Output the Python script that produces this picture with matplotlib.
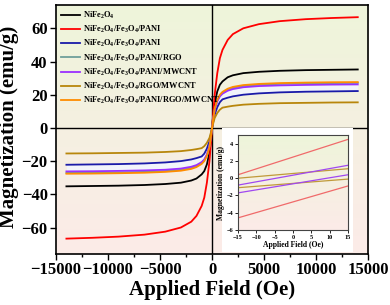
import numpy as np
import matplotlib
matplotlib.use("Agg")
import matplotlib.pyplot as plt
from matplotlib.ticker import MultipleLocator

plt.rcParams['font.family'] = 'Liberation Serif'
plt.rcParams['font.weight'] = 'bold'
plt.rcParams['mathtext.fontset'] = 'custom'
plt.rcParams['mathtext.rm'] = 'Liberation Serif:bold'
plt.rcParams['mathtext.it'] = 'Liberation Serif:bold'
plt.rcParams['mathtext.bf'] = 'Liberation Serif:bold'
plt.rcParams['mathtext.default'] = 'rm'

# Applied field grid (Oe)
field = [-14000, -11500, -9000, -6500, -4500, -3000, -2000, -1500, -1000, -750, -500, -250, -100,
         0, 100, 250, 500, 750, 1000, 1500, 2000, 3000, 4500, 6500, 9000, 11500, 14000]

# Magnetization (emu/g) per sample
m_nife = [-35.2, -35.0, -34.8, -34.4, -33.8, -33.0, -31.7, -30.5, -28.0, -26.0, -22.0, -15.0, -7.0,
          0, 7.0, 15.0, 22.0, 26.0, 28.0, 30.5, 31.7, 33.0, 33.8, 34.4, 34.8, 35.0, 35.2]
m_pani = [-66.7, -66.2, -65.5, -64.3, -62.5, -60.0, -56.5, -53.0, -47.0, -42.0, -33.0, -20.0, -8.0,
          0, 8.0, 20.0, 33.0, 42.0, 47.0, 53.0, 56.5, 60.0, 62.5, 64.3, 65.5, 66.2, 66.7]
m_pani2 = [-22.2, -22.0, -21.8, -21.4, -20.8, -20.0, -19.0, -18.2, -17.2, -15.5, -12.5, -8.0, -3.5,
           0, 3.5, 8.0, 12.5, 15.5, 17.2, 18.2, 19.0, 20.0, 20.8, 21.4, 21.8, 22.0, 22.2]
m_rgo = [-27.1, -27.0, -26.8, -26.5, -26.0, -25.3, -24.2, -23.1, -21.2, -19.5, -16.5, -11.0, -5.0,
         0, 5.0, 11.0, 16.5, 19.5, 21.2, 23.1, 24.2, 25.3, 26.0, 26.5, 26.8, 27.0, 27.1]
m_mwcnt = [-26.2, -26.1, -25.9, -25.6, -25.2, -24.5, -23.4, -22.4, -20.6, -19.0, -16.0, -10.8, -4.8,
           0, 4.8, 10.8, 16.0, 19.0, 20.6, 22.4, 23.4, 24.5, 25.2, 25.6, 25.9, 26.1, 26.2]
m_rgo_mwcnt = [-15.4, -15.3, -15.1, -14.9, -14.5, -14.0, -13.3, -12.8, -12.2, -11.0, -9.0, -6.0, -2.5,
               0, 2.5, 6.0, 9.0, 11.0, 12.2, 12.8, 13.3, 14.0, 14.5, 14.9, 15.1, 15.3, 15.4]
m_all = [-27.6, -27.5, -27.3, -27.0, -26.5, -25.8, -24.7, -23.6, -21.7, -20.0, -17.0, -11.5, -5.0,
         0, 5.0, 11.5, 17.0, 20.0, 21.7, 23.6, 24.7, 25.8, 26.5, 27.0, 27.3, 27.5, 27.6]

labels = [r'NiFe$_2$O$_4$',
          r'NiFe$_2$O$_4$/Fe$_3$O$_4$/PANI',
          r'NiFe$_2$O$_4$/Fe$_3$O$_4$/PANI',
          r'NiFe$_2$O$_4$/Fe$_3$O$_4$/PANI/RGO',
          r'NiFe$_2$O$_4$/Fe$_3$O$_4$/PANI/MWCNT',
          r'NiFe$_2$O$_4$/Fe$_3$O$_4$/RGO/MWCNT',
          r'NiFe$_2$O$_4$/Fe$_3$O$_4$/PANI/RGO/MWCNT']
colors = ['black', 'red', '#1a1aa8', '#6f9f9a', '#9b30ff', '#b8860b', '#ff8c00']
series = [m_nife, m_pani, m_pani2, m_rgo, m_mwcnt, m_rgo_mwcnt, m_all]

# Inset: low-field branches (Oe, emu/g)
inset_field = [-15, 15]
inset_red_up = [0.4, 4.5]
inset_red_dn = [-4.6, -0.9]
inset_pur_up = [-0.8, 1.5]
inset_pur_dn = [-1.7, 0.4]
inset_brn_up = [0.0, 1.1]
inset_brn_dn = [-1.1, -0.1]

fig = plt.figure(figsize=(3.9, 3.05), dpi=100)
ax = fig.add_axes([0.1436, 0.167, 0.8004, 0.8164])

# green-to-pink background
grad = np.linspace(0, 1, 256).reshape(-1, 1)
top = np.array([238, 245, 218]) / 255
bot = np.array([252, 235, 232]) / 255
img = top + (bot - top) * grad[:, :, None]
ax.imshow(img, extent=[-15000, 15000, -76, 74], aspect='auto', zorder=0)

ax.axhline(0, color='black', lw=1.0, zorder=1)
ax.axvline(0, color='black', lw=1.0, zorder=1)

ax.fill_between(field, m_pani2, m_mwcnt, color='#f2f4fb', lw=0, zorder=1.5)
for m, c, lab in zip(series, colors, labels):
    ax.plot(field, m, color=c, lw=1.3, label=lab, zorder=2)

ax.set_xlim(-15000, 15000)
ax.set_ylim(-76, 74)
ax.xaxis.set_major_locator(MultipleLocator(5000))
ax.xaxis.set_minor_locator(MultipleLocator(2500))
ax.yaxis.set_major_locator(MultipleLocator(20))
ax.tick_params(which='major', length=4, width=1, labelsize=12, pad=2)
ax.tick_params(which='minor', length=2.5, width=1)
for lbl in ax.get_xticklabels() + ax.get_yticklabels():
    lbl.set_fontweight('bold')
for s in ax.spines.values():
    s.set_linewidth(1.2)
ax.set_xlabel('Applied Field (Oe)', fontsize=15, fontweight='bold', labelpad=1)
ax.set_ylabel('Magnetization (emu/g)', fontsize=15, fontweight='bold')
ax.yaxis.set_label_coords(-0.118, 0.51)

leg = ax.legend(loc='upper left', frameon=False, fontsize=6, handlelength=2.3,
                handletextpad=0.3, labelspacing=0.35, borderaxespad=0.2)

# white panel behind inset
panel = fig.add_axes([0.569, 0.174, 0.336, 0.407])
panel.set_facecolor('white')
panel.set_xticks([])
panel.set_yticks([])
for s in panel.spines.values():
    s.set_visible(False)

ins = fig.add_axes([0.610, 0.246, 0.282, 0.311])
ins.imshow(img, extent=[-15, 15, -6, 5], aspect='auto', zorder=0)
ins.plot(inset_field, inset_red_up, color='#f06a6a', lw=0.9)
ins.plot(inset_field, inset_red_dn, color='#f06a6a', lw=0.9)
ins.plot(inset_field, inset_brn_up, color='#c09a3a', lw=0.9)
ins.plot(inset_field, inset_brn_dn, color='#c09a3a', lw=0.9)
ins.plot(inset_field, inset_pur_up, color='#a048f0', lw=0.9)
ins.plot(inset_field, inset_pur_dn, color='#a048f0', lw=0.9)
ins.set_xlim(-15, 15)
ins.set_ylim(-6, 5)
ins.set_xticks([-15, -10, -5, 0, 5, 10, 15])
ins.set_yticks([-6, -4, -2, 0, 2, 4])
ins.tick_params(length=2, width=0.6, labelsize=4.5, pad=1.5)
for s in ins.spines.values():
    s.set_linewidth(0.8)
    s.set_color('#444444')
ins.set_xlabel('Applied Field (Oe)', fontsize=5.5, fontweight='bold', labelpad=1)
ins.set_ylabel('Magnetization (emu/g)', fontsize=5.5, fontweight='bold', labelpad=1)

fig.savefig('out.png', dpi=100)
